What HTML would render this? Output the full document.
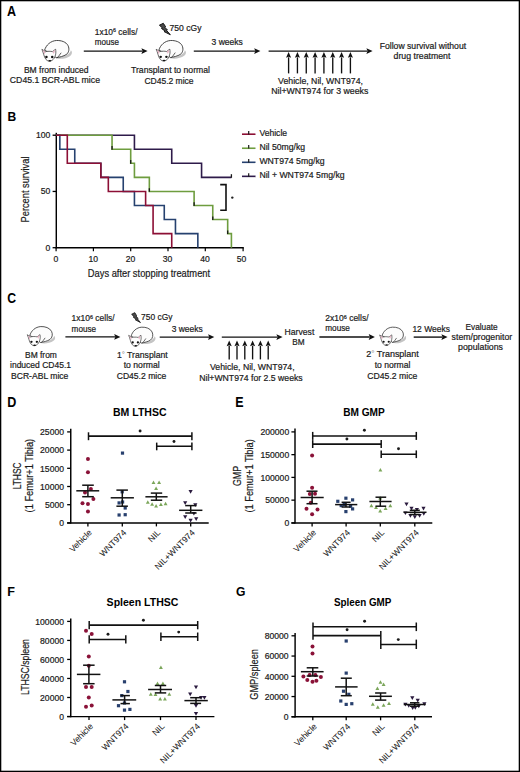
<!DOCTYPE html><html><head><meta charset="utf-8"><style>html,body{margin:0;padding:0;background:#fff;}svg{display:block;font-family:"Liberation Sans",sans-serif;}text{stroke:#1a1a1a;stroke-width:0.2px;}text[font-weight=bold]{stroke:none;}</style></head><body>
<svg width="520" height="772" viewBox="0 0 520 772">
<defs><g id="mouse">
<path d="M14.5,18.2 C19,19.4 25,18.4 28.6,15.8 C30.7,14.2 31,11.6 29.3,10.2 C28.6,13.6 24,16.6 16,17.4 Z" fill="#c4c4c4"/>
<path d="M3.1,10.1 C4.5,5 9,0.6 15,0.3 C19.5,0.1 24.5,1.6 26.5,5.5 C28,8.6 27.4,12.5 24.7,14.4 C22,16.2 18,17 14.5,17.7 L11,14 Z" fill="#fcfcfc" stroke="#262626" stroke-width="0.85"/>
<path d="M19.6,12.6 C18.3,14.6 17,16.3 15.6,17.7" fill="none" stroke="#262626" stroke-width="0.75"/>
<path d="M0.4,9.2 C1.5,9.8 2.8,10.8 3.8,11.6 C6,11 9,11 11,11.5 C12,10.6 13,9.7 14.1,9.1 C14.4,11 14.4,13 14.1,14.1 C13.8,15.5 13.4,17 12.5,18.3 C11.5,19.8 10,20.8 8.5,21.1 C7,21.3 5.5,20.5 4.6,19.5 C3.5,18.3 2.8,16.5 2.3,14.7 C1.8,12.8 1.2,10.9 0.4,9.2 Z" fill="#fdfdfd" stroke="#262626" stroke-width="0.7"/>
<path d="M0.9,9.7 C1.9,10.3 2.8,11 3.6,11.8 L3.2,14.4 C2.4,12.7 1.6,11.1 0.9,9.7 Z" fill="#e8b0c2"/>
<path d="M13.7,9.6 C12.8,10.1 11.9,10.8 11.2,11.6 L12.1,13.9 C12.8,12.6 13.4,11.1 13.7,9.6 Z" fill="#e8b0c2"/>
<circle cx="4.9" cy="16.9" r="1.25" fill="#111"/>
<circle cx="10.7" cy="16.9" r="1.25" fill="#111"/>
<ellipse cx="8.3" cy="20.6" rx="1.5" ry="0.75" fill="#111"/>
</g></defs>
<rect x="0" y="0" width="520" height="772" fill="#fff"/>
<rect x="0.65" y="0.65" width="518.7" height="770.7" fill="none" stroke="#000" stroke-width="1.3"/>
<text transform="translate(6.89,16.40) scale(0.888,1)" x="0" y="0" font-size="14.10" font-weight="bold" fill="#000">A</text>
<text transform="translate(7.39,121.10) scale(0.907,1)" x="0" y="0" font-size="13.37" font-weight="bold" fill="#000">B</text>
<text transform="translate(7.20,303.36) scale(0.875,1)" x="0" y="0" font-size="13.98" font-weight="bold" fill="#000">C</text>
<text transform="translate(7.36,406.90) scale(0.900,1)" x="0" y="0" font-size="13.95" font-weight="bold" fill="#000">D</text>
<text transform="translate(235.37,407.10) scale(0.876,1)" x="0" y="0" font-size="14.24" font-weight="bold" fill="#000">E</text>
<text transform="translate(7.26,596.40) scale(0.923,1)" x="0" y="0" font-size="13.66" font-weight="bold" fill="#000">F</text>
<text transform="translate(235.90,596.27) scale(0.887,1)" x="0" y="0" font-size="13.70" font-weight="bold" fill="#000">G</text>
<use href="#mouse" transform="translate(41.50,40.20) scale(1.003,0.995)"/>
<text x="23.90" y="73.00" font-size="8.7" fill="#1a1a1a" textLength="64.50" lengthAdjust="spacingAndGlyphs">BM from induced</text>
<text x="9.80" y="83.30" font-size="8.7" fill="#1a1a1a" textLength="90.20" lengthAdjust="spacingAndGlyphs">CD45.1 BCR-ABL mice</text>
<g transform="translate(94.80,35.10) scale(0.9658,1)"><text x="0" y="0" font-size="8.7" fill="#1a1a1a">1x10<tspan font-size="5.57" dy="-2.61">6</tspan><tspan dy="2.61"> cells/</tspan></text></g>
<text x="94.80" y="45.30" font-size="8.7" fill="#1a1a1a" textLength="24.20" lengthAdjust="spacingAndGlyphs">mouse</text>
<line x1="83.80" y1="51.10" x2="142.40" y2="51.10" stroke="#111" stroke-width="1.4"/>
<path d="M147.60,51.10 L141.40,48.20 L142.50,51.10 L141.40,54.00 Z" fill="#111"/>
<g transform="translate(159.00,23.00) scale(1.000,0.960)"><path d="M0.4,2.3 L4.3,0.3 L6.6,3.9 L5.8,4.4 L8.4,7.3 L7.6,7.8 L11.3,12.2 L5.0,8.9 L5.9,8.3 L2.5,5.7 L3.4,5.1 Z" fill="#4a4a4a" stroke="#111" stroke-width="1.0" stroke-linejoin="round"/></g>
<text x="169.60" y="30.90" font-size="8.7" fill="#1a1a1a" textLength="31.90" lengthAdjust="spacingAndGlyphs">750 cGy</text>
<use href="#mouse" transform="translate(155.80,40.20) scale(0.993,0.986)"/>
<text x="131.00" y="73.10" font-size="8.7" fill="#1a1a1a" textLength="79.00" lengthAdjust="spacingAndGlyphs">Transplant to normal</text>
<text x="144.40" y="83.60" font-size="8.7" fill="#1a1a1a" textLength="49.20" lengthAdjust="spacingAndGlyphs">CD45.2 mice</text>
<text x="211.60" y="45.30" font-size="8.7" fill="#1a1a1a" textLength="31.30" lengthAdjust="spacingAndGlyphs">3 weeks</text>
<line x1="193.80" y1="51.10" x2="255.20" y2="51.10" stroke="#111" stroke-width="1.4"/>
<path d="M260.40,51.10 L254.20,48.20 L255.30,51.10 L254.20,54.00 Z" fill="#111"/>
<line x1="268.60" y1="51.10" x2="367.40" y2="51.10" stroke="#111" stroke-width="1.4"/>
<path d="M372.60,51.10 L366.40,48.20 L367.50,51.10 L366.40,54.00 Z" fill="#111"/>
<line x1="288.60" y1="73.40" x2="288.60" y2="57.30" stroke="#111" stroke-width="1.35"/>
<path d="M288.60,52.00 L286.05,57.80 L288.60,56.80 L291.15,57.80 Z" fill="#111"/>
<line x1="297.43" y1="73.40" x2="297.43" y2="57.30" stroke="#111" stroke-width="1.35"/>
<path d="M297.43,52.00 L294.88,57.80 L297.43,56.80 L299.98,57.80 Z" fill="#111"/>
<line x1="306.26" y1="73.40" x2="306.26" y2="57.30" stroke="#111" stroke-width="1.35"/>
<path d="M306.26,52.00 L303.71,57.80 L306.26,56.80 L308.81,57.80 Z" fill="#111"/>
<line x1="315.09" y1="73.40" x2="315.09" y2="57.30" stroke="#111" stroke-width="1.35"/>
<path d="M315.09,52.00 L312.54,57.80 L315.09,56.80 L317.64,57.80 Z" fill="#111"/>
<line x1="323.92" y1="73.40" x2="323.92" y2="57.30" stroke="#111" stroke-width="1.35"/>
<path d="M323.92,52.00 L321.37,57.80 L323.92,56.80 L326.47,57.80 Z" fill="#111"/>
<line x1="332.75" y1="73.40" x2="332.75" y2="57.30" stroke="#111" stroke-width="1.35"/>
<path d="M332.75,52.00 L330.20,57.80 L332.75,56.80 L335.30,57.80 Z" fill="#111"/>
<line x1="341.58" y1="73.40" x2="341.58" y2="57.30" stroke="#111" stroke-width="1.35"/>
<path d="M341.58,52.00 L339.03,57.80 L341.58,56.80 L344.13,57.80 Z" fill="#111"/>
<line x1="350.41" y1="73.40" x2="350.41" y2="57.30" stroke="#111" stroke-width="1.35"/>
<path d="M350.41,52.00 L347.86,57.80 L350.41,56.80 L352.96,57.80 Z" fill="#111"/>
<text x="278.10" y="83.50" font-size="8.7" fill="#1a1a1a" textLength="84.90" lengthAdjust="spacingAndGlyphs">Vehicle, Nil, WNT974,</text>
<text x="271.30" y="94.00" font-size="8.7" fill="#1a1a1a" textLength="97.00" lengthAdjust="spacingAndGlyphs">Nil+WNT974 for 3 weeks</text>
<text x="379.70" y="48.50" font-size="8.7" fill="#1a1a1a" textLength="86.40" lengthAdjust="spacingAndGlyphs">Follow survival without</text>
<text x="393.60" y="58.80" font-size="8.7" fill="#1a1a1a" textLength="56.80" lengthAdjust="spacingAndGlyphs">drug treatment</text>
<line x1="56.30" y1="132.80" x2="56.30" y2="248.30" stroke="#000" stroke-width="1.45"/>
<line x1="55.60" y1="247.70" x2="243.80" y2="247.70" stroke="#000" stroke-width="1.45"/>
<line x1="52.60" y1="247.70" x2="56.30" y2="247.70" stroke="#000" stroke-width="1.3"/>
<line x1="52.60" y1="191.45" x2="56.30" y2="191.45" stroke="#000" stroke-width="1.3"/>
<line x1="52.60" y1="135.20" x2="56.30" y2="135.20" stroke="#000" stroke-width="1.3"/>
<line x1="56.10" y1="247.70" x2="56.10" y2="251.20" stroke="#000" stroke-width="1.2"/>
<line x1="93.40" y1="247.70" x2="93.40" y2="251.20" stroke="#000" stroke-width="1.2"/>
<line x1="130.70" y1="247.70" x2="130.70" y2="251.20" stroke="#000" stroke-width="1.2"/>
<line x1="168.00" y1="247.70" x2="168.00" y2="251.20" stroke="#000" stroke-width="1.2"/>
<line x1="205.30" y1="247.70" x2="205.30" y2="251.20" stroke="#000" stroke-width="1.2"/>
<line x1="243.10" y1="247.70" x2="243.10" y2="251.20" stroke="#000" stroke-width="1.2"/>
<text x="50.30" y="138.30" font-size="8.6" fill="#1a1a1a" text-anchor="end">100</text>
<text x="50.30" y="194.40" font-size="8.6" fill="#1a1a1a" text-anchor="end">50</text>
<text x="50.30" y="250.60" font-size="8.6" fill="#1a1a1a" text-anchor="end">0</text>
<text x="56.00" y="262.00" font-size="8.6" fill="#1a1a1a" text-anchor="middle">0</text>
<text x="93.30" y="262.00" font-size="8.6" fill="#1a1a1a" text-anchor="middle">10</text>
<text x="130.50" y="262.00" font-size="8.6" fill="#1a1a1a" text-anchor="middle">20</text>
<text x="167.60" y="262.00" font-size="8.6" fill="#1a1a1a" text-anchor="middle">30</text>
<text x="205.00" y="262.00" font-size="8.6" fill="#1a1a1a" text-anchor="middle">40</text>
<text x="241.60" y="262.00" font-size="8.6" fill="#1a1a1a" text-anchor="middle">50</text>
<text x="29.10" y="189.50" font-size="10.8" fill="#1a1a1a" text-anchor="middle" textLength="65.90" lengthAdjust="spacingAndGlyphs" transform="rotate(-90 29.10 189.50)">Percent survival</text>
<text x="87.80" y="276.90" font-size="10.6" fill="#1a1a1a" textLength="122.30" lengthAdjust="spacingAndGlyphs">Days after stopping treatment</text>
<path d="M56.10,135.20 H134.43 V149.26 H171.73 V163.32 H201.57 V177.39 H231.41" fill="none" stroke="#2e1b4a" stroke-width="1.6"/>
<path d="M56.10,135.20 H112.05 V149.26 H130.70 V163.32 H134.43 V177.39 H149.35 V191.45 H194.11 V205.51 H212.76 V219.57 H227.68 V233.64 H231.41 V247.70" fill="none" stroke="#6e9d3f" stroke-width="1.6" stroke-linejoin="miter"/>
<path d="M56.10,135.20 H59.83 V149.26 H74.75 V163.32 H100.86 V177.39 H123.24 V191.45 H134.43 V205.51 H164.27 V219.57 H175.46 V233.64 H197.84 V247.70" fill="none" stroke="#26416f" stroke-width="1.6" stroke-linejoin="miter"/>
<path d="M56.10,135.20 H67.29 V163.32 H100.86 V177.39 H108.32 V191.45 H145.62 V205.51 H153.08 V233.64 H171.73 V247.70" fill="none" stroke="#8c0f35" stroke-width="1.6" stroke-linejoin="miter"/>
<line x1="112.05" y1="146.06" x2="112.05" y2="149.66" stroke="#1a1a1a" stroke-width="1.3"/>
<line x1="130.70" y1="160.12" x2="130.70" y2="163.72" stroke="#1a1a1a" stroke-width="1.3"/>
<line x1="149.35" y1="188.25" x2="149.35" y2="191.85" stroke="#1a1a1a" stroke-width="1.3"/>
<line x1="194.11" y1="202.31" x2="194.11" y2="205.91" stroke="#1a1a1a" stroke-width="1.3"/>
<line x1="212.76" y1="216.38" x2="212.76" y2="219.97" stroke="#1a1a1a" stroke-width="1.3"/>
<line x1="227.68" y1="230.44" x2="227.68" y2="234.04" stroke="#1a1a1a" stroke-width="1.3"/>
<line x1="231.41" y1="174.19" x2="231.41" y2="177.79" stroke="#1a1a1a" stroke-width="1.3"/>
<path d="M220.2,184.6 H226 V210.2 H220.2" fill="none" stroke="#111" stroke-width="1.6"/>
<circle cx="232.3" cy="197.6" r="1.2" fill="#222"/>
<line x1="242.00" y1="134.20" x2="255.50" y2="134.20" stroke="#8c0f35" stroke-width="1.6"/>
<line x1="248.70" y1="131.00" x2="248.70" y2="134.50" stroke="#1a1a1a" stroke-width="1.2"/>
<text x="259.40" y="135.70" font-size="8.9" fill="#1a1a1a" textLength="27.70" lengthAdjust="spacingAndGlyphs">Vehicle</text>
<line x1="242.00" y1="148.25" x2="255.50" y2="148.25" stroke="#6e9d3f" stroke-width="1.6"/>
<line x1="248.70" y1="145.05" x2="248.70" y2="148.55" stroke="#1a1a1a" stroke-width="1.2"/>
<text x="259.40" y="149.75" font-size="8.9" fill="#1a1a1a" textLength="45.70" lengthAdjust="spacingAndGlyphs">Nil 50mg/kg</text>
<line x1="242.00" y1="162.30" x2="255.50" y2="162.30" stroke="#26416f" stroke-width="1.6"/>
<line x1="248.70" y1="159.10" x2="248.70" y2="162.60" stroke="#1a1a1a" stroke-width="1.2"/>
<text x="259.40" y="163.80" font-size="8.9" fill="#1a1a1a" textLength="65.20" lengthAdjust="spacingAndGlyphs">WNT974 5mg/kg</text>
<line x1="242.00" y1="176.35" x2="255.50" y2="176.35" stroke="#2e1b4a" stroke-width="1.6"/>
<line x1="248.70" y1="173.15" x2="248.70" y2="176.65" stroke="#1a1a1a" stroke-width="1.2"/>
<text x="259.40" y="177.85" font-size="8.9" fill="#1a1a1a" textLength="85.20" lengthAdjust="spacingAndGlyphs">Nil + WNT974 5mg/kg</text>
<use href="#mouse" transform="translate(26.90,326.30) scale(0.930,0.918)"/>
<text x="25.00" y="357.85" font-size="8.7" fill="#1a1a1a" textLength="31.90" lengthAdjust="spacingAndGlyphs">BM from</text>
<text x="10.00" y="368.45" font-size="8.7" fill="#1a1a1a" textLength="61.10" lengthAdjust="spacingAndGlyphs">induced CD45.1</text>
<text x="11.00" y="378.95" font-size="8.7" fill="#1a1a1a" textLength="57.40" lengthAdjust="spacingAndGlyphs">BCR-ABL mice</text>
<g transform="translate(71.60,321.45) scale(0.9726,1)"><text x="0" y="0" font-size="8.7" fill="#1a1a1a">1x10<tspan font-size="5.57" dy="-2.61">6</tspan><tspan dy="2.61"> cells/</tspan></text></g>
<text x="71.60" y="331.65" font-size="8.7" fill="#1a1a1a" textLength="24.50" lengthAdjust="spacingAndGlyphs">mouse</text>
<line x1="65.40" y1="336.90" x2="115.20" y2="336.90" stroke="#111" stroke-width="1.4"/>
<path d="M120.40,336.90 L114.20,334.00 L115.30,336.90 L114.20,339.80 Z" fill="#111"/>
<g transform="translate(131.30,312.40) scale(0.809,0.832)"><path d="M0.4,2.3 L4.3,0.3 L6.6,3.9 L5.8,4.4 L8.4,7.3 L7.6,7.8 L11.3,12.2 L5.0,8.9 L5.9,8.3 L2.5,5.7 L3.4,5.1 Z" fill="#4a4a4a" stroke="#111" stroke-width="1.0" stroke-linejoin="round"/></g>
<text x="141.10" y="319.65" font-size="8.7" fill="#1a1a1a" textLength="31.30" lengthAdjust="spacingAndGlyphs">750 cGy</text>
<use href="#mouse" transform="translate(128.30,326.90) scale(0.897,0.918)"/>
<g transform="translate(116.90,357.95) scale(0.9967,1)"><text x="0" y="0" font-size="8.7" fill="#1a1a1a">1<tspan font-size="7.83" dy="-1.04" fill="#777" stroke="none">°</tspan><tspan dy="1.04"> Transplant</tspan></text></g>
<text x="123.70" y="368.35" font-size="8.7" fill="#1a1a1a" textLength="36.00" lengthAdjust="spacingAndGlyphs">to normal</text>
<text x="116.70" y="378.65" font-size="8.7" fill="#1a1a1a" textLength="49.60" lengthAdjust="spacingAndGlyphs">CD45.2 mice</text>
<text x="171.70" y="331.85" font-size="8.7" fill="#1a1a1a" textLength="31.00" lengthAdjust="spacingAndGlyphs">3 weeks</text>
<line x1="159.70" y1="337.10" x2="209.10" y2="337.10" stroke="#111" stroke-width="1.4"/>
<path d="M214.30,337.10 L208.10,334.20 L209.20,337.10 L208.10,340.00 Z" fill="#111"/>
<line x1="221.80" y1="337.10" x2="277.40" y2="337.10" stroke="#111" stroke-width="1.4"/>
<path d="M282.60,337.10 L276.40,334.20 L277.50,337.10 L276.40,340.00 Z" fill="#111"/>
<line x1="229.20" y1="359.40" x2="229.20" y2="345.80" stroke="#111" stroke-width="1.35"/>
<path d="M229.20,340.50 L226.65,346.30 L229.20,345.30 L231.75,346.30 Z" fill="#111"/>
<line x1="237.00" y1="359.40" x2="237.00" y2="345.80" stroke="#111" stroke-width="1.35"/>
<path d="M237.00,340.50 L234.45,346.30 L237.00,345.30 L239.55,346.30 Z" fill="#111"/>
<line x1="244.80" y1="359.40" x2="244.80" y2="345.80" stroke="#111" stroke-width="1.35"/>
<path d="M244.80,340.50 L242.25,346.30 L244.80,345.30 L247.35,346.30 Z" fill="#111"/>
<line x1="252.60" y1="359.40" x2="252.60" y2="345.80" stroke="#111" stroke-width="1.35"/>
<path d="M252.60,340.50 L250.05,346.30 L252.60,345.30 L255.15,346.30 Z" fill="#111"/>
<line x1="260.40" y1="359.40" x2="260.40" y2="345.80" stroke="#111" stroke-width="1.35"/>
<path d="M260.40,340.50 L257.85,346.30 L260.40,345.30 L262.95,346.30 Z" fill="#111"/>
<line x1="268.20" y1="359.40" x2="268.20" y2="345.80" stroke="#111" stroke-width="1.35"/>
<path d="M268.20,340.50 L265.65,346.30 L268.20,345.30 L270.75,346.30 Z" fill="#111"/>
<text x="210.00" y="370.15" font-size="8.7" fill="#1a1a1a" textLength="84.60" lengthAdjust="spacingAndGlyphs">Vehicle, Nil, WNT974,</text>
<text x="199.20" y="380.55" font-size="8.7" fill="#1a1a1a" textLength="103.50" lengthAdjust="spacingAndGlyphs">Nil+WNT974 for 2.5 weeks</text>
<text x="284.60" y="335.05" font-size="8.7" fill="#1a1a1a" textLength="29.70" lengthAdjust="spacingAndGlyphs">Harvest</text>
<text x="292.30" y="344.75" font-size="8.7" fill="#1a1a1a" textLength="12.30" lengthAdjust="spacingAndGlyphs">BM</text>
<g transform="translate(325.30,321.35) scale(0.9794,1)"><text x="0" y="0" font-size="8.7" fill="#1a1a1a">2x10<tspan font-size="5.57" dy="-2.61">6</tspan><tspan dy="2.61"> cells/</tspan></text></g>
<text x="325.30" y="331.35" font-size="8.7" fill="#1a1a1a" textLength="24.60" lengthAdjust="spacingAndGlyphs">mouse</text>
<line x1="319.40" y1="337.00" x2="369.70" y2="337.00" stroke="#111" stroke-width="1.4"/>
<path d="M374.90,337.00 L368.70,334.10 L369.80,337.00 L368.70,339.90 Z" fill="#111"/>
<use href="#mouse" transform="translate(379.30,326.90) scale(0.883,0.877)"/>
<g transform="translate(366.20,357.35) scale(1.0328,1)"><text x="0" y="0" font-size="8.7" fill="#1a1a1a">2<tspan font-size="7.83" dy="-1.04" fill="#777" stroke="none">°</tspan><tspan dy="1.04"> Transplant</tspan></text></g>
<text x="374.70" y="368.25" font-size="8.7" fill="#1a1a1a" textLength="35.70" lengthAdjust="spacingAndGlyphs">to normal</text>
<text x="367.30" y="378.65" font-size="8.7" fill="#1a1a1a" textLength="50.00" lengthAdjust="spacingAndGlyphs">CD45.2 mice</text>
<text x="412.40" y="331.75" font-size="8.7" fill="#1a1a1a" textLength="37.50" lengthAdjust="spacingAndGlyphs">12 Weeks</text>
<line x1="413.70" y1="337.10" x2="442.40" y2="337.10" stroke="#111" stroke-width="1.4"/>
<path d="M447.60,337.10 L441.40,334.20 L442.50,337.10 L441.40,340.00 Z" fill="#111"/>
<text x="465.50" y="329.65" font-size="8.7" fill="#1a1a1a" textLength="32.20" lengthAdjust="spacingAndGlyphs">Evaluate</text>
<text x="451.60" y="339.85" font-size="8.7" fill="#1a1a1a" textLength="60.60" lengthAdjust="spacingAndGlyphs">stem/progenitor</text>
<text x="458.10" y="350.05" font-size="8.7" fill="#1a1a1a" textLength="44.90" lengthAdjust="spacingAndGlyphs">populations</text>
<line x1="70.75" y1="428.70" x2="70.75" y2="523.60" stroke="#000" stroke-width="1.45"/>
<line x1="67.15" y1="522.90" x2="208.70" y2="522.90" stroke="#000" stroke-width="1.45"/>
<line x1="67.15" y1="431.90" x2="70.75" y2="431.90" stroke="#000" stroke-width="1.3"/>
<line x1="67.15" y1="450.10" x2="70.75" y2="450.10" stroke="#000" stroke-width="1.3"/>
<line x1="67.15" y1="468.30" x2="70.75" y2="468.30" stroke="#000" stroke-width="1.3"/>
<line x1="67.15" y1="486.50" x2="70.75" y2="486.50" stroke="#000" stroke-width="1.3"/>
<line x1="67.15" y1="504.70" x2="70.75" y2="504.70" stroke="#000" stroke-width="1.3"/>
<line x1="67.15" y1="522.90" x2="70.75" y2="522.90" stroke="#000" stroke-width="1.3"/>
<text x="64.00" y="435.10" font-size="8.6" fill="#1a1a1a" text-anchor="end">25000</text>
<text x="64.00" y="453.30" font-size="8.6" fill="#1a1a1a" text-anchor="end">20000</text>
<text x="64.00" y="471.50" font-size="8.6" fill="#1a1a1a" text-anchor="end">15000</text>
<text x="64.00" y="489.70" font-size="8.6" fill="#1a1a1a" text-anchor="end">10000</text>
<text x="64.00" y="507.90" font-size="8.6" fill="#1a1a1a" text-anchor="end">5000</text>
<text x="64.00" y="526.10" font-size="8.6" fill="#1a1a1a" text-anchor="end">0</text>
<line x1="87.90" y1="522.90" x2="87.90" y2="526.40" stroke="#000" stroke-width="1.3"/>
<line x1="122.30" y1="522.90" x2="122.30" y2="526.40" stroke="#000" stroke-width="1.3"/>
<line x1="156.40" y1="522.90" x2="156.40" y2="526.40" stroke="#000" stroke-width="1.3"/>
<line x1="190.70" y1="522.90" x2="190.70" y2="526.40" stroke="#000" stroke-width="1.3"/>
<text x="92.50" y="533.20" font-size="8.6" fill="#1a1a1a" style="stroke-width:0.05px" text-anchor="end" transform="rotate(-45 92.50 533.20)">Vehicle</text>
<text x="126.90" y="533.20" font-size="8.6" fill="#1a1a1a" style="stroke-width:0.05px" text-anchor="end" transform="rotate(-45 126.90 533.20)">WNT974</text>
<text x="161.00" y="533.20" font-size="8.6" fill="#1a1a1a" style="stroke-width:0.05px" text-anchor="end" transform="rotate(-45 161.00 533.20)">NIL</text>
<text x="195.30" y="533.20" font-size="8.6" fill="#1a1a1a" style="stroke-width:0.05px" text-anchor="end" transform="rotate(-45 195.30 533.20)">NIL+WNT974</text>
<text x="113.00" y="415.90" font-size="10.0" font-weight="bold" fill="#000" textLength="53.50" lengthAdjust="spacingAndGlyphs">BM LTHSC</text>
<text x="21.15" y="475.85" font-size="10.4" fill="#1a1a1a" text-anchor="middle" textLength="27.00" lengthAdjust="spacingAndGlyphs" transform="rotate(-90 21.15 475.85)">LTHSC</text>
<text x="33.50" y="475.60" font-size="10.4" fill="#1a1a1a" text-anchor="middle" textLength="73.60" lengthAdjust="spacingAndGlyphs" transform="rotate(-90 33.50 475.60)">(1 Femur+1 Tibia)</text>
<circle cx="87.95" cy="458.90" r="2.0" fill="#8a1238"/>
<circle cx="87.95" cy="472.20" r="2.0" fill="#8a1238"/>
<circle cx="90.90" cy="489.00" r="2.0" fill="#8a1238"/>
<circle cx="85.00" cy="492.60" r="2.0" fill="#8a1238"/>
<circle cx="93.40" cy="499.00" r="2.0" fill="#8a1238"/>
<circle cx="82.50" cy="503.30" r="2.0" fill="#8a1238"/>
<circle cx="87.95" cy="503.90" r="2.0" fill="#8a1238"/>
<circle cx="87.95" cy="511.60" r="2.0" fill="#8a1238"/>
<line x1="76.30" y1="490.80" x2="99.20" y2="490.80" stroke="#111" stroke-width="1.5"/>
<line x1="87.90" y1="485.20" x2="87.90" y2="496.70" stroke="#111" stroke-width="1.5"/>
<line x1="82.20" y1="485.20" x2="93.80" y2="485.20" stroke="#111" stroke-width="1.5"/>
<line x1="82.20" y1="496.70" x2="93.80" y2="496.70" stroke="#111" stroke-width="1.5"/>
<rect x="120.90" y="451.50" width="3.2" height="3.2" fill="#28406e"/>
<rect x="120.60" y="490.20" width="3.2" height="3.2" fill="#28406e"/>
<rect x="117.50" y="501.30" width="3.2" height="3.2" fill="#28406e"/>
<rect x="121.00" y="500.40" width="3.2" height="3.2" fill="#28406e"/>
<rect x="123.60" y="506.40" width="3.2" height="3.2" fill="#28406e"/>
<rect x="117.50" y="513.40" width="3.2" height="3.2" fill="#28406e"/>
<rect x="123.60" y="513.10" width="3.2" height="3.2" fill="#28406e"/>
<line x1="110.70" y1="497.80" x2="133.90" y2="497.80" stroke="#111" stroke-width="1.5"/>
<line x1="122.30" y1="490.10" x2="122.30" y2="506.20" stroke="#111" stroke-width="1.5"/>
<line x1="116.40" y1="490.10" x2="127.90" y2="490.10" stroke="#111" stroke-width="1.5"/>
<line x1="116.40" y1="506.20" x2="127.90" y2="506.20" stroke="#111" stroke-width="1.5"/>
<path d="M153.50,480.50 L155.45,484.00 L151.55,484.00 Z" fill="#7ba65a"/>
<path d="M159.10,480.50 L161.05,484.00 L157.15,484.00 Z" fill="#7ba65a"/>
<path d="M156.10,486.40 L158.05,489.90 L154.15,489.90 Z" fill="#7ba65a"/>
<path d="M147.80,500.30 L149.75,503.80 L145.85,503.80 Z" fill="#7ba65a"/>
<path d="M152.10,502.30 L154.05,505.80 L150.15,505.80 Z" fill="#7ba65a"/>
<path d="M156.10,503.90 L158.05,507.40 L154.15,507.40 Z" fill="#7ba65a"/>
<path d="M160.90,502.60 L162.85,506.10 L158.95,506.10 Z" fill="#7ba65a"/>
<path d="M165.60,501.70 L167.55,505.20 L163.65,505.20 Z" fill="#7ba65a"/>
<line x1="145.40" y1="496.80" x2="167.60" y2="496.80" stroke="#111" stroke-width="1.5"/>
<line x1="156.30" y1="493.10" x2="156.30" y2="500.20" stroke="#111" stroke-width="1.5"/>
<line x1="150.80" y1="493.10" x2="162.20" y2="493.10" stroke="#111" stroke-width="1.5"/>
<line x1="150.80" y1="500.20" x2="162.20" y2="500.20" stroke="#111" stroke-width="1.5"/>
<path d="M190.60,493.80 L192.70,490.10 L188.50,490.10 Z" fill="#2a1a3e"/>
<path d="M185.20,504.90 L187.30,501.20 L183.10,501.20 Z" fill="#2a1a3e"/>
<path d="M195.30,506.90 L197.40,503.20 L193.20,503.20 Z" fill="#2a1a3e"/>
<path d="M193.90,515.60 L196.00,511.90 L191.80,511.90 Z" fill="#2a1a3e"/>
<path d="M185.20,519.00 L187.30,515.30 L183.10,515.30 Z" fill="#2a1a3e"/>
<path d="M196.20,521.00 L198.30,517.30 L194.10,517.30 Z" fill="#2a1a3e"/>
<path d="M190.60,522.40 L192.70,518.70 L188.50,518.70 Z" fill="#2a1a3e"/>
<line x1="179.10" y1="510.30" x2="202.40" y2="510.30" stroke="#111" stroke-width="1.5"/>
<line x1="190.70" y1="505.60" x2="190.70" y2="513.00" stroke="#111" stroke-width="1.5"/>
<line x1="185.20" y1="505.60" x2="196.60" y2="505.60" stroke="#111" stroke-width="1.5"/>
<line x1="185.20" y1="513.00" x2="196.60" y2="513.00" stroke="#111" stroke-width="1.5"/>
<line x1="88.50" y1="436.10" x2="191.90" y2="436.10" stroke="#111" stroke-width="1.55"/>
<line x1="88.50" y1="432.30" x2="88.50" y2="440.20" stroke="#111" stroke-width="1.5"/>
<line x1="191.90" y1="432.30" x2="191.90" y2="440.20" stroke="#111" stroke-width="1.5"/>
<circle cx="140.10" cy="431.00" r="1.45" fill="#1a1a1a"/>
<line x1="156.70" y1="446.30" x2="191.90" y2="446.30" stroke="#111" stroke-width="1.55"/>
<line x1="156.70" y1="442.60" x2="156.70" y2="450.30" stroke="#111" stroke-width="1.5"/>
<line x1="191.90" y1="442.60" x2="191.90" y2="450.30" stroke="#111" stroke-width="1.5"/>
<circle cx="174.00" cy="441.50" r="1.45" fill="#1a1a1a"/>
<line x1="295.00" y1="428.50" x2="295.00" y2="523.60" stroke="#000" stroke-width="1.45"/>
<line x1="291.40" y1="522.90" x2="432.30" y2="522.90" stroke="#000" stroke-width="1.45"/>
<line x1="291.40" y1="431.90" x2="295.00" y2="431.90" stroke="#000" stroke-width="1.3"/>
<line x1="291.40" y1="454.65" x2="295.00" y2="454.65" stroke="#000" stroke-width="1.3"/>
<line x1="291.40" y1="477.40" x2="295.00" y2="477.40" stroke="#000" stroke-width="1.3"/>
<line x1="291.40" y1="500.15" x2="295.00" y2="500.15" stroke="#000" stroke-width="1.3"/>
<line x1="291.40" y1="522.90" x2="295.00" y2="522.90" stroke="#000" stroke-width="1.3"/>
<text x="289.20" y="435.10" font-size="8.6" fill="#1a1a1a" text-anchor="end">200000</text>
<text x="289.20" y="457.85" font-size="8.6" fill="#1a1a1a" text-anchor="end">150000</text>
<text x="289.20" y="480.60" font-size="8.6" fill="#1a1a1a" text-anchor="end">100000</text>
<text x="289.20" y="503.35" font-size="8.6" fill="#1a1a1a" text-anchor="end">50000</text>
<text x="289.20" y="526.10" font-size="8.6" fill="#1a1a1a" text-anchor="end">0</text>
<line x1="312.10" y1="522.90" x2="312.10" y2="526.40" stroke="#000" stroke-width="1.3"/>
<line x1="346.10" y1="522.90" x2="346.10" y2="526.40" stroke="#000" stroke-width="1.3"/>
<line x1="380.30" y1="522.90" x2="380.30" y2="526.40" stroke="#000" stroke-width="1.3"/>
<line x1="414.80" y1="522.90" x2="414.80" y2="526.40" stroke="#000" stroke-width="1.3"/>
<text x="316.70" y="533.20" font-size="8.6" fill="#1a1a1a" style="stroke-width:0.05px" text-anchor="end" transform="rotate(-45 316.70 533.20)">Vehicle</text>
<text x="350.70" y="533.20" font-size="8.6" fill="#1a1a1a" style="stroke-width:0.05px" text-anchor="end" transform="rotate(-45 350.70 533.20)">WNT974</text>
<text x="384.90" y="533.20" font-size="8.6" fill="#1a1a1a" style="stroke-width:0.05px" text-anchor="end" transform="rotate(-45 384.90 533.20)">NIL</text>
<text x="419.40" y="533.20" font-size="8.6" fill="#1a1a1a" style="stroke-width:0.05px" text-anchor="end" transform="rotate(-45 419.40 533.20)">NIL+WNT974</text>
<text x="343.20" y="415.90" font-size="10.0" font-weight="bold" fill="#000" textLength="41.60" lengthAdjust="spacingAndGlyphs">BM GMP</text>
<text x="240.50" y="476.00" font-size="10.6" fill="#1a1a1a" text-anchor="middle" textLength="20.20" lengthAdjust="spacingAndGlyphs" transform="rotate(-90 240.50 476.00)">GMP</text>
<text x="253.00" y="475.90" font-size="10.4" fill="#1a1a1a" text-anchor="middle" textLength="73.30" lengthAdjust="spacingAndGlyphs" transform="rotate(-90 253.00 475.90)">(1 Femur+1 Tibia)</text>
<circle cx="312.10" cy="455.40" r="2.0" fill="#8a1238"/>
<circle cx="312.10" cy="487.70" r="2.0" fill="#8a1238"/>
<circle cx="309.80" cy="494.00" r="2.0" fill="#8a1238"/>
<circle cx="315.00" cy="493.70" r="2.0" fill="#8a1238"/>
<circle cx="310.80" cy="502.70" r="2.0" fill="#8a1238"/>
<circle cx="306.50" cy="508.80" r="2.0" fill="#8a1238"/>
<circle cx="317.50" cy="509.40" r="2.0" fill="#8a1238"/>
<circle cx="312.10" cy="514.20" r="2.0" fill="#8a1238"/>
<line x1="300.60" y1="497.50" x2="323.70" y2="497.50" stroke="#111" stroke-width="1.5"/>
<line x1="312.10" y1="491.20" x2="312.10" y2="503.70" stroke="#111" stroke-width="1.5"/>
<line x1="306.50" y1="491.20" x2="317.50" y2="491.20" stroke="#111" stroke-width="1.5"/>
<line x1="306.50" y1="503.70" x2="317.50" y2="503.70" stroke="#111" stroke-width="1.5"/>
<rect x="344.30" y="496.60" width="3.2" height="3.2" fill="#28406e"/>
<rect x="336.20" y="499.70" width="3.2" height="3.2" fill="#28406e"/>
<rect x="351.00" y="498.30" width="3.2" height="3.2" fill="#28406e"/>
<rect x="339.60" y="504.00" width="3.2" height="3.2" fill="#28406e"/>
<rect x="342.60" y="503.00" width="3.2" height="3.2" fill="#28406e"/>
<rect x="349.00" y="504.60" width="3.2" height="3.2" fill="#28406e"/>
<rect x="351.00" y="507.30" width="3.2" height="3.2" fill="#28406e"/>
<rect x="344.30" y="510.00" width="3.2" height="3.2" fill="#28406e"/>
<line x1="335.10" y1="504.60" x2="357.30" y2="504.60" stroke="#111" stroke-width="1.5"/>
<line x1="346.00" y1="502.30" x2="346.00" y2="507.00" stroke="#111" stroke-width="1.5"/>
<line x1="341.60" y1="502.30" x2="350.60" y2="502.30" stroke="#111" stroke-width="1.5"/>
<line x1="341.60" y1="507.00" x2="350.60" y2="507.00" stroke="#111" stroke-width="1.5"/>
<path d="M380.40,468.10 L382.35,471.60 L378.45,471.60 Z" fill="#7ba65a"/>
<path d="M380.20,495.90 L382.15,499.40 L378.25,499.40 Z" fill="#7ba65a"/>
<path d="M371.40,503.70 L373.35,507.20 L369.45,507.20 Z" fill="#7ba65a"/>
<path d="M380.20,509.10 L382.15,512.60 L378.25,512.60 Z" fill="#7ba65a"/>
<path d="M385.60,506.40 L387.55,509.90 L383.65,509.90 Z" fill="#7ba65a"/>
<path d="M390.30,503.70 L392.25,507.20 L388.35,507.20 Z" fill="#7ba65a"/>
<path d="M376.00,505.60 L377.95,509.10 L374.05,509.10 Z" fill="#7ba65a"/>
<line x1="369.40" y1="501.50" x2="391.60" y2="501.50" stroke="#111" stroke-width="1.5"/>
<line x1="380.30" y1="497.20" x2="380.30" y2="506.20" stroke="#111" stroke-width="1.5"/>
<line x1="375.50" y1="497.20" x2="386.20" y2="497.20" stroke="#111" stroke-width="1.5"/>
<line x1="375.50" y1="506.20" x2="386.20" y2="506.20" stroke="#111" stroke-width="1.5"/>
<path d="M406.50,506.20 L408.60,502.50 L404.40,502.50 Z" fill="#2a1a3e"/>
<path d="M423.50,510.50 L425.60,506.80 L421.40,506.80 Z" fill="#2a1a3e"/>
<path d="M411.50,510.50 L413.60,506.80 L409.40,506.80 Z" fill="#2a1a3e"/>
<path d="M416.90,511.60 L419.00,507.90 L414.80,507.90 Z" fill="#2a1a3e"/>
<path d="M405.40,515.10 L407.50,511.40 L403.30,511.40 Z" fill="#2a1a3e"/>
<path d="M410.40,517.80 L412.50,514.10 L408.30,514.10 Z" fill="#2a1a3e"/>
<path d="M414.80,518.90 L416.90,515.20 L412.70,515.20 Z" fill="#2a1a3e"/>
<path d="M419.60,517.80 L421.70,514.10 L417.50,514.10 Z" fill="#2a1a3e"/>
<path d="M423.80,515.80 L425.90,512.10 L421.70,512.10 Z" fill="#2a1a3e"/>
<line x1="403.50" y1="512.30" x2="426.50" y2="512.30" stroke="#111" stroke-width="1.5"/>
<line x1="414.80" y1="510.30" x2="414.80" y2="514.50" stroke="#111" stroke-width="1.5"/>
<line x1="409.80" y1="510.30" x2="419.80" y2="510.30" stroke="#111" stroke-width="1.5"/>
<line x1="409.80" y1="514.50" x2="419.80" y2="514.50" stroke="#111" stroke-width="1.5"/>
<line x1="312.70" y1="435.90" x2="416.30" y2="435.90" stroke="#111" stroke-width="1.55"/>
<line x1="312.70" y1="431.90" x2="312.70" y2="439.90" stroke="#111" stroke-width="1.5"/>
<line x1="416.30" y1="431.90" x2="416.30" y2="439.90" stroke="#111" stroke-width="1.5"/>
<circle cx="364.40" cy="430.20" r="1.45" fill="#1a1a1a"/>
<line x1="312.70" y1="444.10" x2="381.20" y2="444.10" stroke="#111" stroke-width="1.55"/>
<line x1="312.70" y1="440.10" x2="312.70" y2="448.00" stroke="#111" stroke-width="1.5"/>
<line x1="381.20" y1="440.10" x2="381.20" y2="448.00" stroke="#111" stroke-width="1.5"/>
<circle cx="346.90" cy="439.00" r="1.45" fill="#1a1a1a"/>
<line x1="381.20" y1="454.20" x2="416.30" y2="454.20" stroke="#111" stroke-width="1.55"/>
<line x1="381.20" y1="450.40" x2="381.20" y2="458.10" stroke="#111" stroke-width="1.5"/>
<line x1="416.30" y1="450.40" x2="416.30" y2="458.10" stroke="#111" stroke-width="1.5"/>
<circle cx="398.50" cy="448.80" r="1.45" fill="#1a1a1a"/>
<line x1="70.75" y1="618.40" x2="70.75" y2="717.30" stroke="#000" stroke-width="1.45"/>
<line x1="67.15" y1="716.60" x2="214.40" y2="716.60" stroke="#000" stroke-width="1.45"/>
<line x1="67.15" y1="621.40" x2="70.75" y2="621.40" stroke="#000" stroke-width="1.3"/>
<line x1="67.15" y1="640.42" x2="70.75" y2="640.42" stroke="#000" stroke-width="1.3"/>
<line x1="67.15" y1="659.44" x2="70.75" y2="659.44" stroke="#000" stroke-width="1.3"/>
<line x1="67.15" y1="678.46" x2="70.75" y2="678.46" stroke="#000" stroke-width="1.3"/>
<line x1="67.15" y1="697.48" x2="70.75" y2="697.48" stroke="#000" stroke-width="1.3"/>
<line x1="67.15" y1="716.50" x2="70.75" y2="716.50" stroke="#000" stroke-width="1.3"/>
<text x="64.00" y="624.60" font-size="8.6" fill="#1a1a1a" text-anchor="end">100000</text>
<text x="64.00" y="643.62" font-size="8.6" fill="#1a1a1a" text-anchor="end">80000</text>
<text x="64.00" y="662.64" font-size="8.6" fill="#1a1a1a" text-anchor="end">60000</text>
<text x="64.00" y="681.66" font-size="8.6" fill="#1a1a1a" text-anchor="end">40000</text>
<text x="64.00" y="700.68" font-size="8.6" fill="#1a1a1a" text-anchor="end">20000</text>
<text x="64.00" y="719.70" font-size="8.6" fill="#1a1a1a" text-anchor="end">0</text>
<line x1="89.00" y1="716.60" x2="89.00" y2="720.10" stroke="#000" stroke-width="1.3"/>
<line x1="124.60" y1="716.60" x2="124.60" y2="720.10" stroke="#000" stroke-width="1.3"/>
<line x1="160.50" y1="716.60" x2="160.50" y2="720.10" stroke="#000" stroke-width="1.3"/>
<line x1="196.00" y1="716.60" x2="196.00" y2="720.10" stroke="#000" stroke-width="1.3"/>
<text x="93.60" y="726.90" font-size="8.6" fill="#1a1a1a" style="stroke-width:0.05px" text-anchor="end" transform="rotate(-45 93.60 726.90)">Vehicle</text>
<text x="129.20" y="726.90" font-size="8.6" fill="#1a1a1a" style="stroke-width:0.05px" text-anchor="end" transform="rotate(-45 129.20 726.90)">WNT974</text>
<text x="165.10" y="726.90" font-size="8.6" fill="#1a1a1a" style="stroke-width:0.05px" text-anchor="end" transform="rotate(-45 165.10 726.90)">NIL</text>
<text x="200.60" y="726.90" font-size="8.6" fill="#1a1a1a" style="stroke-width:0.05px" text-anchor="end" transform="rotate(-45 200.60 726.90)">NIL+WNT974</text>
<text x="106.60" y="605.90" font-size="10.0" font-weight="bold" fill="#000" textLength="71.90" lengthAdjust="spacingAndGlyphs">Spleen LTHSC</text>
<text x="29.00" y="667.10" font-size="10.5" fill="#1a1a1a" text-anchor="middle" textLength="55.90" lengthAdjust="spacingAndGlyphs" transform="rotate(-90 29.00 667.10)">LTHSC/spleen</text>
<circle cx="86.00" cy="630.80" r="2.0" fill="#8a1238"/>
<circle cx="91.70" cy="634.00" r="2.0" fill="#8a1238"/>
<circle cx="88.80" cy="656.50" r="2.0" fill="#8a1238"/>
<circle cx="88.80" cy="665.80" r="2.0" fill="#8a1238"/>
<circle cx="86.00" cy="686.90" r="2.0" fill="#8a1238"/>
<circle cx="91.70" cy="686.90" r="2.0" fill="#8a1238"/>
<circle cx="88.80" cy="697.50" r="2.0" fill="#8a1238"/>
<circle cx="86.00" cy="706.70" r="2.0" fill="#8a1238"/>
<circle cx="91.70" cy="705.60" r="2.0" fill="#8a1238"/>
<line x1="76.90" y1="674.40" x2="100.40" y2="674.40" stroke="#111" stroke-width="1.5"/>
<line x1="88.90" y1="665.20" x2="88.90" y2="683.70" stroke="#111" stroke-width="1.5"/>
<line x1="83.10" y1="665.20" x2="94.60" y2="665.20" stroke="#111" stroke-width="1.5"/>
<line x1="83.10" y1="683.70" x2="94.60" y2="683.70" stroke="#111" stroke-width="1.5"/>
<rect x="122.90" y="680.20" width="3.2" height="3.2" fill="#28406e"/>
<rect x="126.30" y="689.90" width="3.2" height="3.2" fill="#28406e"/>
<rect x="120.20" y="694.00" width="3.2" height="3.2" fill="#28406e"/>
<rect x="116.90" y="704.10" width="3.2" height="3.2" fill="#28406e"/>
<rect x="122.90" y="708.50" width="3.2" height="3.2" fill="#28406e"/>
<rect x="128.30" y="707.80" width="3.2" height="3.2" fill="#28406e"/>
<rect x="122.90" y="701.40" width="3.2" height="3.2" fill="#28406e"/>
<line x1="112.40" y1="699.90" x2="136.20" y2="699.90" stroke="#111" stroke-width="1.5"/>
<line x1="124.60" y1="695.60" x2="124.60" y2="703.60" stroke="#111" stroke-width="1.5"/>
<line x1="120.50" y1="695.60" x2="129.90" y2="695.60" stroke="#111" stroke-width="1.5"/>
<line x1="120.50" y1="703.60" x2="129.90" y2="703.60" stroke="#111" stroke-width="1.5"/>
<path d="M160.90,665.50 L162.85,669.00 L158.95,669.00 Z" fill="#7ba65a"/>
<path d="M157.50,681.60 L159.45,685.10 L155.55,685.10 Z" fill="#7ba65a"/>
<path d="M162.90,681.60 L164.85,685.10 L160.95,685.10 Z" fill="#7ba65a"/>
<path d="M150.80,692.30 L152.75,695.80 L148.85,695.80 Z" fill="#7ba65a"/>
<path d="M155.50,692.60 L157.45,696.10 L153.55,696.10 Z" fill="#7ba65a"/>
<path d="M169.30,692.30 L171.25,695.80 L167.35,695.80 Z" fill="#7ba65a"/>
<path d="M160.20,697.00 L162.15,700.50 L158.25,700.50 Z" fill="#7ba65a"/>
<path d="M164.90,697.00 L166.85,700.50 L162.95,700.50 Z" fill="#7ba65a"/>
<line x1="148.10" y1="689.50" x2="172.00" y2="689.50" stroke="#111" stroke-width="1.5"/>
<line x1="160.50" y1="685.50" x2="160.50" y2="692.90" stroke="#111" stroke-width="1.5"/>
<line x1="154.80" y1="685.50" x2="166.20" y2="685.50" stroke="#111" stroke-width="1.5"/>
<line x1="154.80" y1="692.90" x2="166.20" y2="692.90" stroke="#111" stroke-width="1.5"/>
<path d="M196.00,689.30 L198.10,685.60 L193.90,685.60 Z" fill="#2a1a3e"/>
<path d="M190.20,696.20 L192.30,692.50 L188.10,692.50 Z" fill="#2a1a3e"/>
<path d="M204.40,699.70 L206.50,696.00 L202.30,696.00 Z" fill="#2a1a3e"/>
<path d="M201.10,699.70 L203.20,696.00 L199.00,696.00 Z" fill="#2a1a3e"/>
<path d="M196.00,707.80 L198.10,704.10 L193.90,704.10 Z" fill="#2a1a3e"/>
<path d="M196.00,715.80 L198.10,712.10 L193.90,712.10 Z" fill="#2a1a3e"/>
<line x1="184.40" y1="700.60" x2="207.80" y2="700.60" stroke="#111" stroke-width="1.5"/>
<line x1="196.00" y1="697.70" x2="196.00" y2="703.40" stroke="#111" stroke-width="1.5"/>
<line x1="190.20" y1="697.70" x2="201.10" y2="697.70" stroke="#111" stroke-width="1.5"/>
<line x1="190.20" y1="703.40" x2="201.10" y2="703.40" stroke="#111" stroke-width="1.5"/>
<line x1="89.20" y1="625.10" x2="197.70" y2="625.10" stroke="#111" stroke-width="1.55"/>
<line x1="89.20" y1="621.00" x2="89.20" y2="629.30" stroke="#111" stroke-width="1.5"/>
<line x1="197.70" y1="621.00" x2="197.70" y2="629.30" stroke="#111" stroke-width="1.5"/>
<circle cx="143.40" cy="620.20" r="1.45" fill="#1a1a1a"/>
<line x1="89.20" y1="639.40" x2="125.80" y2="639.40" stroke="#111" stroke-width="1.55"/>
<line x1="89.20" y1="635.20" x2="89.20" y2="643.60" stroke="#111" stroke-width="1.5"/>
<line x1="125.80" y1="635.20" x2="125.80" y2="643.60" stroke="#111" stroke-width="1.5"/>
<circle cx="108.00" cy="634.20" r="1.45" fill="#1a1a1a"/>
<line x1="160.90" y1="636.70" x2="197.70" y2="636.70" stroke="#111" stroke-width="1.55"/>
<line x1="160.90" y1="632.50" x2="160.90" y2="641.00" stroke="#111" stroke-width="1.5"/>
<line x1="197.70" y1="632.50" x2="197.70" y2="641.00" stroke="#111" stroke-width="1.5"/>
<circle cx="178.70" cy="632.10" r="1.45" fill="#1a1a1a"/>
<line x1="295.10" y1="632.90" x2="295.10" y2="717.50" stroke="#000" stroke-width="1.45"/>
<line x1="291.50" y1="716.80" x2="432.00" y2="716.80" stroke="#000" stroke-width="1.45"/>
<line x1="291.50" y1="635.80" x2="295.10" y2="635.80" stroke="#000" stroke-width="1.3"/>
<line x1="291.50" y1="656.05" x2="295.10" y2="656.05" stroke="#000" stroke-width="1.3"/>
<line x1="291.50" y1="676.30" x2="295.10" y2="676.30" stroke="#000" stroke-width="1.3"/>
<line x1="291.50" y1="696.55" x2="295.10" y2="696.55" stroke="#000" stroke-width="1.3"/>
<line x1="291.50" y1="716.80" x2="295.10" y2="716.80" stroke="#000" stroke-width="1.3"/>
<text x="288.60" y="639.00" font-size="8.6" fill="#1a1a1a" text-anchor="end">80000</text>
<text x="288.60" y="659.25" font-size="8.6" fill="#1a1a1a" text-anchor="end">60000</text>
<text x="288.60" y="679.50" font-size="8.6" fill="#1a1a1a" text-anchor="end">40000</text>
<text x="288.60" y="699.75" font-size="8.6" fill="#1a1a1a" text-anchor="end">20000</text>
<text x="288.60" y="720.00" font-size="8.6" fill="#1a1a1a" text-anchor="end">0</text>
<line x1="312.80" y1="716.80" x2="312.80" y2="720.30" stroke="#000" stroke-width="1.3"/>
<line x1="346.20" y1="716.80" x2="346.20" y2="720.30" stroke="#000" stroke-width="1.3"/>
<line x1="380.60" y1="716.80" x2="380.60" y2="720.30" stroke="#000" stroke-width="1.3"/>
<line x1="414.80" y1="716.80" x2="414.80" y2="720.30" stroke="#000" stroke-width="1.3"/>
<text x="317.40" y="727.10" font-size="8.6" fill="#1a1a1a" style="stroke-width:0.05px" text-anchor="end" transform="rotate(-45 317.40 727.10)">Vehicle</text>
<text x="350.80" y="727.10" font-size="8.6" fill="#1a1a1a" style="stroke-width:0.05px" text-anchor="end" transform="rotate(-45 350.80 727.10)">WNT974</text>
<text x="385.20" y="727.10" font-size="8.6" fill="#1a1a1a" style="stroke-width:0.05px" text-anchor="end" transform="rotate(-45 385.20 727.10)">NIL</text>
<text x="419.40" y="727.10" font-size="8.6" fill="#1a1a1a" style="stroke-width:0.05px" text-anchor="end" transform="rotate(-45 419.40 727.10)">NIL+WNT974</text>
<text x="333.90" y="605.80" font-size="10.0" font-weight="bold" fill="#000" textLength="57.50" lengthAdjust="spacingAndGlyphs">Spleen GMP</text>
<text x="258.00" y="674.40" font-size="10.6" fill="#1a1a1a" text-anchor="middle" textLength="50.80" lengthAdjust="spacingAndGlyphs" transform="rotate(-90 258.00 674.40)">GMP/spleen</text>
<circle cx="312.50" cy="646.50" r="2.0" fill="#8a1238"/>
<circle cx="312.50" cy="653.60" r="2.0" fill="#8a1238"/>
<circle cx="303.40" cy="676.40" r="2.0" fill="#8a1238"/>
<circle cx="309.60" cy="675.00" r="2.0" fill="#8a1238"/>
<circle cx="315.40" cy="675.00" r="2.0" fill="#8a1238"/>
<circle cx="320.90" cy="677.00" r="2.0" fill="#8a1238"/>
<circle cx="307.30" cy="679.90" r="2.0" fill="#8a1238"/>
<circle cx="312.50" cy="681.80" r="2.0" fill="#8a1238"/>
<circle cx="316.40" cy="680.80" r="2.0" fill="#8a1238"/>
<line x1="300.90" y1="671.70" x2="323.60" y2="671.70" stroke="#111" stroke-width="1.5"/>
<line x1="312.80" y1="667.80" x2="312.80" y2="676.00" stroke="#111" stroke-width="1.5"/>
<line x1="306.70" y1="667.80" x2="318.30" y2="667.80" stroke="#111" stroke-width="1.5"/>
<line x1="306.70" y1="676.00" x2="318.30" y2="676.00" stroke="#111" stroke-width="1.5"/>
<rect x="344.60" y="639.40" width="3.2" height="3.2" fill="#28406e"/>
<rect x="344.60" y="671.50" width="3.2" height="3.2" fill="#28406e"/>
<rect x="341.90" y="689.60" width="3.2" height="3.2" fill="#28406e"/>
<rect x="347.20" y="692.70" width="3.2" height="3.2" fill="#28406e"/>
<rect x="339.20" y="699.40" width="3.2" height="3.2" fill="#28406e"/>
<rect x="344.60" y="702.80" width="3.2" height="3.2" fill="#28406e"/>
<rect x="350.20" y="702.10" width="3.2" height="3.2" fill="#28406e"/>
<line x1="335.10" y1="686.90" x2="357.60" y2="686.90" stroke="#111" stroke-width="1.5"/>
<line x1="346.20" y1="678.20" x2="346.20" y2="695.70" stroke="#111" stroke-width="1.5"/>
<line x1="340.80" y1="678.20" x2="351.80" y2="678.20" stroke="#111" stroke-width="1.5"/>
<line x1="340.80" y1="695.70" x2="351.80" y2="695.70" stroke="#111" stroke-width="1.5"/>
<path d="M380.50,680.30 L382.45,683.80 L378.55,683.80 Z" fill="#7ba65a"/>
<path d="M383.60,682.60 L385.55,686.10 L381.65,686.10 Z" fill="#7ba65a"/>
<path d="M377.40,686.40 L379.35,689.90 L375.45,689.90 Z" fill="#7ba65a"/>
<path d="M372.80,702.20 L374.75,705.70 L370.85,705.70 Z" fill="#7ba65a"/>
<path d="M377.80,705.20 L379.75,708.70 L375.85,708.70 Z" fill="#7ba65a"/>
<path d="M383.60,703.20 L385.55,706.70 L381.65,706.70 Z" fill="#7ba65a"/>
<path d="M389.00,701.40 L390.95,704.90 L387.05,704.90 Z" fill="#7ba65a"/>
<line x1="369.00" y1="696.30" x2="391.90" y2="696.30" stroke="#111" stroke-width="1.5"/>
<line x1="380.60" y1="693.00" x2="380.60" y2="700.10" stroke="#111" stroke-width="1.5"/>
<line x1="375.10" y1="693.00" x2="386.30" y2="693.00" stroke="#111" stroke-width="1.5"/>
<line x1="375.10" y1="700.10" x2="386.30" y2="700.10" stroke="#111" stroke-width="1.5"/>
<path d="M412.30,700.00 L414.40,696.30 L410.20,696.30 Z" fill="#2a1a3e"/>
<path d="M417.70,702.40 L419.80,698.70 L415.60,698.70 Z" fill="#2a1a3e"/>
<path d="M405.40,706.50 L407.50,702.80 L403.30,702.80 Z" fill="#2a1a3e"/>
<path d="M408.80,707.80 L410.90,704.10 L406.70,704.10 Z" fill="#2a1a3e"/>
<path d="M412.70,709.90 L414.80,706.20 L410.60,706.20 Z" fill="#2a1a3e"/>
<path d="M415.30,709.70 L417.40,706.00 L413.20,706.00 Z" fill="#2a1a3e"/>
<path d="M418.80,708.20 L420.90,704.50 L416.70,704.50 Z" fill="#2a1a3e"/>
<path d="M424.40,706.00 L426.50,702.30 L422.30,702.30 Z" fill="#2a1a3e"/>
<line x1="403.70" y1="704.50" x2="425.70" y2="704.50" stroke="#111" stroke-width="1.5"/>
<line x1="414.70" y1="702.80" x2="414.70" y2="706.20" stroke="#111" stroke-width="1.5"/>
<line x1="410.00" y1="702.80" x2="419.40" y2="702.80" stroke="#111" stroke-width="1.5"/>
<line x1="410.00" y1="706.20" x2="419.40" y2="706.20" stroke="#111" stroke-width="1.5"/>
<line x1="313.00" y1="626.80" x2="416.30" y2="626.80" stroke="#111" stroke-width="1.55"/>
<line x1="313.00" y1="622.50" x2="313.00" y2="631.10" stroke="#111" stroke-width="1.5"/>
<line x1="416.30" y1="622.50" x2="416.30" y2="631.10" stroke="#111" stroke-width="1.5"/>
<circle cx="364.60" cy="621.30" r="1.45" fill="#1a1a1a"/>
<line x1="313.00" y1="635.60" x2="380.80" y2="635.60" stroke="#111" stroke-width="1.55"/>
<line x1="313.00" y1="631.10" x2="313.00" y2="639.80" stroke="#111" stroke-width="1.5"/>
<line x1="380.80" y1="631.10" x2="380.80" y2="639.80" stroke="#111" stroke-width="1.5"/>
<circle cx="347.10" cy="629.70" r="1.45" fill="#1a1a1a"/>
<line x1="380.80" y1="644.50" x2="416.30" y2="644.50" stroke="#111" stroke-width="1.55"/>
<line x1="380.80" y1="639.60" x2="380.80" y2="649.00" stroke="#111" stroke-width="1.5"/>
<line x1="416.30" y1="639.60" x2="416.30" y2="649.00" stroke="#111" stroke-width="1.5"/>
<circle cx="398.30" cy="639.60" r="1.45" fill="#1a1a1a"/>
</svg></body></html>
